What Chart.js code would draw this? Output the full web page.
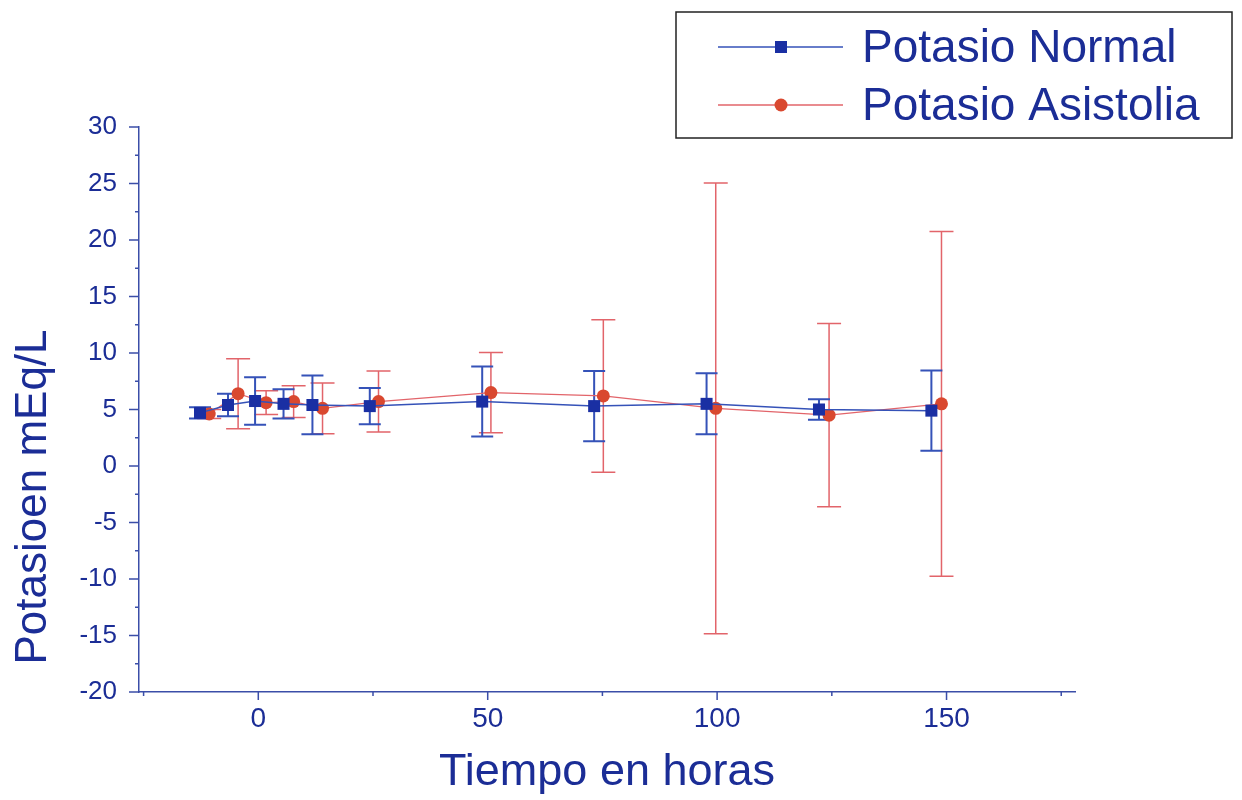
<!DOCTYPE html>
<html>
<head>
<meta charset="utf-8">
<title>Potasio</title>
<script src="https://cdn.jsdelivr.net/npm/chart.js@4.4.1/dist/chart.umd.min.js"></script>
<style>
  html, body { margin: 0; padding: 0; background: #fff; }
  #wrap { width: 1242px; height: 800px; }
</style>
</head>
<body>
<div id="wrap"><canvas id="chartK" width="1242" height="800"></canvas></div>
<script>
// datos (horas, mEq/L, desviacion)
const timeNormal = [-12.7, -6.6, -0.7, 5.5, 11.8, 24.3, 48.8, 73.2, 97.7, 122.2, 146.7];
const kNormal    = [4.7, 5.4, 5.75, 5.5, 5.4, 5.3, 5.7, 5.3, 5.5, 5.0, 4.9];
const errNormal  = [0.5, 1.0, 2.1, 1.3, 2.6, 1.6, 3.1, 3.1, 2.7, 0.9, 3.55];

const timeAsist = [-10.7, -4.4, 1.7, 7.7, 14.0, 26.2, 50.7, 75.2, 99.7, 124.4, 148.9];
const kAsist    = [4.6, 6.4, 5.6, 5.7, 5.1, 5.7, 6.5, 6.2, 5.1, 4.5, 5.5];
const errAsist  = [0.4, 3.1, 1.05, 1.4, 2.25, 2.7, 3.55, 6.75, 19.95, 8.1, 15.25];

const xTicks = [0, 50, 100, 150];
const yTicks = [-20, -15, -10, -5, 0, 5, 10, 15, 20, 25, 30];

const NAVY = "#1b2d96";
const AXIS = "#3b4ea8";
const BLUE = "#1a2fa3";
const BLUE_LINE = "#3552b8";
const RED = "#d9482f";
const RED_LINE = "#e2646a";
const FONT = "'Liberation Sans', Arial, sans-serif";

const toPts = (xs, ys) => xs.map((x, i) => ({ x, y: ys[i] }));

// barras de error dibujadas con las escalas del grafico
const errorBars = {
  id: "errorBars",
  beforeDatasetsDraw(chart) {
    const { ctx, scales } = chart;
    const sets = [
      { xs: timeAsist, ys: kAsist, es: errAsist, color: RED_LINE, cap: 12, w: 1.5 },
      { xs: timeNormal, ys: kNormal, es: errNormal, color: BLUE_LINE, cap: 11, w: 2 },
    ];
    ctx.save();
    sets.forEach((s) => {
      ctx.strokeStyle = s.color;
      ctx.lineWidth = s.w;
      s.xs.forEach((xv, i) => {
        const px = scales.x.getPixelForValue(xv);
        const top = scales.y.getPixelForValue(s.ys[i] + s.es[i]);
        const bot = scales.y.getPixelForValue(s.ys[i] - s.es[i]);
        ctx.beginPath();
        ctx.moveTo(px, top);
        ctx.lineTo(px, bot);
        ctx.moveTo(px - s.cap, top);
        ctx.lineTo(px + s.cap, top);
        ctx.moveTo(px - s.cap, bot);
        ctx.lineTo(px + s.cap, bot);
        ctx.stroke();
      });
    });
    ctx.restore();
  },
};

// marcas de los ejes (mayores y menores) + titulo Y + leyenda con recuadro
const decor = {
  id: "decor",
  afterDraw(chart) {
    const { ctx, scales, chartArea } = chart;
    const x = scales.x, y = scales.y;
    ctx.save();
    ctx.strokeStyle = AXIS;
    ctx.lineWidth = 1.5;
    ctx.beginPath();
    for (let v = -25; v <= 175; v += 25) {
      if (v < x.min || v > x.max) continue;
      const px = x.getPixelForValue(v);
      const len = v % 50 === 0 ? 8 : 4;
      ctx.moveTo(px, chartArea.bottom);
      ctx.lineTo(px, chartArea.bottom + len);
    }
    for (let v = -20; v <= 30; v += 2.5) {
      const py = y.getPixelForValue(v);
      const len = v % 5 === 0 ? 10 : 4;
      ctx.moveTo(chartArea.left, py);
      ctx.lineTo(chartArea.left - len, py);
    }
    ctx.stroke();

    // titulo eje Y
    ctx.fillStyle = NAVY;
    ctx.font = "44px " + FONT;
    ctx.textAlign = "center";
    ctx.textBaseline = "middle";
    ctx.translate(34, 497);
    ctx.rotate(-Math.PI / 2);
    ctx.fillText("Potasioen mEq/L", 0, 0);
    ctx.restore();

    // leyenda
    ctx.save();
    ctx.strokeStyle = "#222";
    ctx.lineWidth = 1.5;
    ctx.strokeRect(676, 12, 556, 126);
    const rows = [
      { label: "Potasio Normal", y: 47, line: BLUE_LINE, fill: BLUE, square: true },
      { label: "Potasio Asistolia", y: 105, line: RED_LINE, fill: RED, square: false },
    ];
    rows.forEach((r) => {
      ctx.strokeStyle = r.line;
      ctx.lineWidth = 1.5;
      ctx.beginPath();
      ctx.moveTo(718, r.y);
      ctx.lineTo(843, r.y);
      ctx.stroke();
      ctx.fillStyle = r.fill;
      if (r.square) {
        ctx.fillRect(775, r.y - 6, 12, 12);
      } else {
        ctx.beginPath();
        ctx.arc(781, r.y, 6.5, 0, Math.PI * 2);
        ctx.fill();
      }
      ctx.fillStyle = NAVY;
      ctx.font = "46px " + FONT;
      ctx.textAlign = "left";
      ctx.textBaseline = "middle";
      ctx.fillText(r.label, 862, r.y + 2);
    });
    ctx.restore();
  },
};

const chart = new Chart(document.getElementById("chartK"), {
  type: "scatter",
  data: {
    datasets: [
      {
        label: "Potasio Normal",
        data: toPts(timeNormal, kNormal),
        showLine: true,
        borderColor: BLUE_LINE,
        borderWidth: 1.5,
        pointStyle: "rect",
        pointRadius: 8.5,
        pointBackgroundColor: BLUE,
        pointBorderWidth: 0,
      },
      {
        label: "Potasio Asistolia",
        data: toPts(timeAsist, kAsist),
        showLine: true,
        borderColor: RED_LINE,
        borderWidth: 1.2,
        pointStyle: "circle",
        pointRadius: 6.5,
        pointBackgroundColor: RED,
        pointBorderWidth: 0,
      },
    ],
  },
  options: {
    responsive: false,
    animation: false,
    layout: { padding: { top: 127, right: 167, left: 0, bottom: 0 } },
    plugins: { legend: { display: false }, tooltip: { enabled: false } },
    scales: {
      x: {
        type: "linear",
        min: -26,
        max: 178,
        afterBuildTicks: (s) => { s.ticks = xTicks.map((v) => ({ value: v })); },
        afterFit: (s) => { s.height = 108; },
        grid: { display: false, drawTicks: false },
        border: { display: true, color: AXIS, width: 1.5 },
        ticks: { color: NAVY, font: { family: FONT, size: 28 }, padding: 10, maxRotation: 0 },
        title: {
          display: true,
          text: "Tiempo en horas",
          color: NAVY,
          font: { family: FONT, size: 45 },
          padding: { top: 0, bottom: 0 },
        },
      },
      y: {
        type: "linear",
        min: -20,
        max: 30,
        afterBuildTicks: (s) => { s.ticks = yTicks.map((v) => ({ value: v })); },
        afterFit: (s) => { s.width = 139; },
        grid: { display: false, drawTicks: false },
        border: { display: true, color: AXIS, width: 1.5 },
        ticks: { color: NAVY, font: { family: FONT, size: 26 }, padding: 22 },
      },
    },
  },
  plugins: [errorBars, decor],
});
</script>
</body>
</html>
